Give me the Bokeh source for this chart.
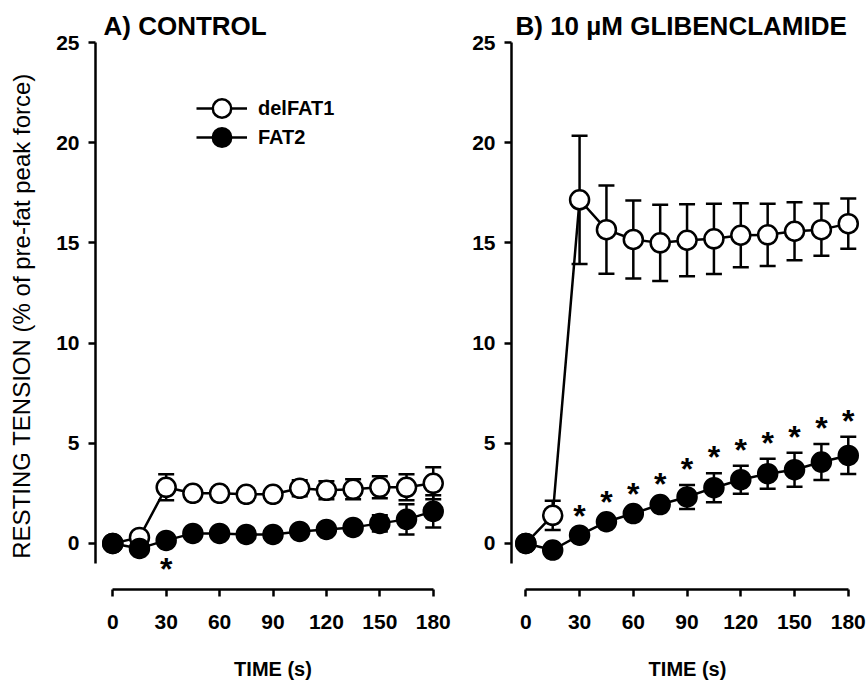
from bokeh.plotting import figure
from bokeh.layouts import row
from bokeh.models import ColumnDataSource, Whisker, Legend, LegendItem, Range1d, TeeHead
from bokeh.embed import file_html
from bokeh.resources import INLINE
from bokeh.core.properties import value

# ---------------- data ----------------
time_s = [0, 15, 30, 45, 60, 75, 90, 105, 120, 135, 150, 165, 180]
x_ticks = [0, 30, 60, 90, 120, 150, 180]
y_ticks = [0, 5, 10, 15, 20, 25]

# A) CONTROL
ctrl_delfat1 = [0, 0.3, 2.8, 2.5, 2.5, 2.45, 2.45, 2.75, 2.65, 2.7, 2.8, 2.8, 3.0]
ctrl_delfat1_err = [0, 0.1, 0.65, 0.3, 0.3, 0.3, 0.3, 0.4, 0.45, 0.5, 0.55, 0.65, 0.8]
ctrl_fat2 = [0, -0.25, 0.15, 0.5, 0.5, 0.45, 0.45, 0.6, 0.7, 0.8, 1.0, 1.2, 1.6]
ctrl_fat2_err = [0, 0.1, 0.1, 0.1, 0.1, 0.1, 0.1, 0.15, 0.2, 0.25, 0.4, 0.75, 0.8]
ctrl_sig_times = [30]

# B) 10 uM GLIBENCLAMIDE
glib_delfat1 = [0, 1.4, 17.15, 15.66, 15.17, 15.0, 15.13, 15.2, 15.38, 15.4, 15.58, 15.66, 15.96]
glib_delfat1_err = [0, 0.73, 3.2, 2.2, 1.95, 1.9, 1.8, 1.75, 1.6, 1.55, 1.45, 1.3, 1.25]
glib_fat2 = [0, -0.33, 0.41, 1.08, 1.49, 1.94, 2.32, 2.78, 3.18, 3.48, 3.68, 4.06, 4.39]
glib_fat2_err = [0, 0.1, 0.15, 0.2, 0.2, 0.25, 0.6, 0.72, 0.7, 0.75, 0.85, 0.9, 0.93]
glib_sig_times = [30, 45, 60, 75, 90, 105, 120, 135, 150, 165, 180]

series_labels = ["delFAT1", "FAT2"]

FONT = "Liberation Sans"


def make_src(t, y, e):
    return ColumnDataSource(dict(
        t=t, y=y,
        lower=[a - b for a, b in zip(y, e)],
        upper=[a + b for a, b in zip(y, e)],
    ))


def whisker(src):
    return Whisker(source=src, base="t", upper="upper", lower="lower",
                   line_width=2.5, line_color="black", level="underlay",
                   upper_head=TeeHead(size=16, line_width=2.5, line_color="black"),
                   lower_head=TeeHead(size=16, line_width=2.5, line_color="black"))


def legend_box(label, renderers, y_loc):
    return Legend(items=[LegendItem(label=label, renderers=renderers)],
                  location=(101, y_loc), glyph_width=51, glyph_height=46,
                  label_height=22, spacing=0, label_standoff=11, padding=0,
                  margin=0, border_line_color=None, background_fill_alpha=0,
                  label_text_font=FONT, label_text_font_style="bold",
                  label_text_font_size="20px", label_text_color="black")


def panel(title_text, title_offset, d1, d1e, f2, f2e, sig_times, stars_above,
          width, border_left, border_right, x_start, x_end, ylabel, legend):
    p = figure(width=width, height=687, output_backend="svg", toolbar_location=None,
               x_range=Range1d(x_start, x_end), y_range=Range1d(-2.3, 25),
               min_border_left=border_left, min_border_right=border_right,
               min_border_top=42, min_border_bottom=98)
    p.outline_line_color = None
    p.grid.visible = False
    p.background_fill_color = "white"
    p.border_fill_color = "white"

    p.title.text = title_text
    p.title.text_font = FONT
    p.title.text_font_size = "26px"
    p.title.text_font_style = "bold"
    p.title.text_color = "black"
    p.title.align = "left"
    p.title.offset = title_offset
    p.title.standoff = 4

    for ax in (p.xaxis[0], p.yaxis[0]):
        ax.axis_line_width = 2.5
        ax.axis_line_color = "black"
        ax.major_tick_line_width = 2.5
        ax.major_tick_line_color = "black"
        ax.minor_tick_line_color = None
        ax.major_tick_in = 0
        ax.major_tick_out = 7
        ax.major_label_text_font = FONT
        ax.major_label_text_font_style = "bold"
        ax.major_label_text_font_size = "21px"
        ax.major_label_text_color = "black"
        ax.axis_label_text_font = FONT
        ax.axis_label_text_color = "black"
    p.xaxis.ticker = x_ticks
    p.yaxis.ticker = y_ticks
    p.xaxis.bounds = (0, 180)
    p.yaxis.bounds = (-1, 25)
    p.xaxis.major_label_standoff = 18
    p.yaxis.major_label_standoff = 9

    p.xaxis.axis_label = "TIME (s)"
    p.xaxis.axis_label_text_font_style = "bold"
    p.xaxis.axis_label_text_font_size = "20px"
    p.xaxis.axis_label_standoff = 26
    if ylabel:
        p.yaxis.axis_label = ylabel
        p.yaxis.axis_label_text_font_style = "normal"
        p.yaxis.axis_label_text_font_size = "24px"
        p.yaxis.axis_label_standoff = 18

    s1 = make_src(time_s, d1, d1e)
    s2 = make_src(time_s, f2, f2e)

    p.add_layout(whisker(s1))
    l1 = p.line("t", "y", source=s1, line_width=2.5, line_color="black")
    c1 = p.scatter("t", "y", source=s1, size=19, marker="circle",
                   fill_color="white", line_color="black", line_width=2.5)
    p.add_layout(whisker(s2))
    l2 = p.line("t", "y", source=s2, line_width=2.5, line_color="black")
    c2 = p.scatter("t", "y", source=s2, size=19, marker="circle",
                   fill_color="black", line_color="black", line_width=2.5)

    # significance stars
    idx = [time_s.index(t) for t in sig_times]
    if stars_above:
        sy = [f2[i] + f2e[i] for i in idx]
        yoff = -16
    else:
        sy = [f2[i] - f2e[i] for i in idx]
        yoff = 27
    p.text(x=sig_times, y=sy, text=["*"] * len(idx), text_font=value(FONT),
           text_font_style="bold", text_font_size="32px", text_align="center",
           text_baseline="alphabetic", y_offset=yoff, text_color="black")

    if legend:
        p.add_layout(legend_box(series_labels[0], [l1, c1], 458))
        p.add_layout(legend_box(series_labels[1], [l2, c2], 429))
    return p


p1 = panel("A) CONTROL", 8, ctrl_delfat1, ctrl_delfat1_err, ctrl_fat2, ctrl_fat2_err,
           ctrl_sig_times, False, 460, 95, 10, -9.7, 189.7,
           "RESTING TENSION (% of pre-fat peak force)", True)
p2 = panel("B) 10 \u00b5M GLIBENCLAMIDE", 4, glib_delfat1, glib_delfat1_err, glib_fat2,
           glib_fat2_err, glib_sig_times, True, 408, 51, 5, -8.0, 188.5, None, False)

layout = row(p1, p2)
open("out.html", "w").write(file_html(layout, INLINE))
